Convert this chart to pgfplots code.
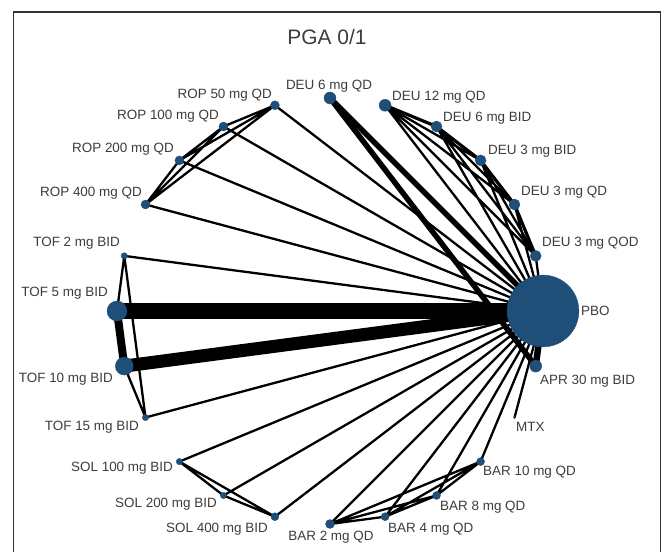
\documentclass[border=0pt]{standalone}
\usepackage{fontspec}
\setmainfont{Liberation Sans}
\usepackage{pgfplots}
\pgfplotsset{compat=1.18}
\definecolor{nodeblue}{HTML}{1F4E79}
\definecolor{txt}{HTML}{3C3C3C}
\begin{document}
\begin{tikzpicture}
\begin{axis}[hide axis, scale only axis, width=662bp, height=552bp,
  xmin=0, xmax=662, ymin=0, ymax=552, clip=false, unbounded coords=jump]
\path (axis cs:0,0) rectangle (axis cs:662,552);
% frame
\draw[line width=1.4bp, black!80] (axis cs:13.5,0) -- (axis cs:13.5,540) -- (axis cs:660.5,540) -- (axis cs:660.5,0);
% thin edges
\addplot[black, line width=2.3bp, line cap=round] coordinates {
(543,241) (535.7,296.1) (nan,nan)
(543,241) (514.5,347.5) (nan,nan)
(543,241) (480.6,391.6) (nan,nan)
(543,241) (436.5,425.5) (nan,nan)
(543,241) (385.1,446.7) (nan,nan)
(543,241) (274.9,446.7) (nan,nan)
(543,241) (223.5,425.5) (nan,nan)
(543,241) (179.4,391.6) (nan,nan)
(543,241) (145.5,347.5) (nan,nan)
(543,241) (124.3,296.1) (nan,nan)
(543,241) (145.5,134.5) (nan,nan)
(543,241) (179.4,90.4) (nan,nan)
(543,241) (223.5,56.5) (nan,nan)
(543,241) (274.9,35.3) (nan,nan)
(543,241) (330,28) (nan,nan)
(543,241) (385.1,35.3) (nan,nan)
(543,241) (436.5,56.5) (nan,nan)
(543,241) (480.6,90.4) (nan,nan)
(543,241) (514.5,134.5) (nan,nan)
(274.9,446.7) (223.5,425.5) (nan,nan)
(274.9,446.7) (179.4,391.6) (nan,nan)
(274.9,446.7) (145.5,347.5) (nan,nan)
(223.5,425.5) (179.4,391.6) (nan,nan)
(223.5,425.5) (145.5,347.5) (nan,nan)
(179.4,391.6) (145.5,347.5) (nan,nan)
(124.3,296.1) (117,241) (nan,nan)
(124.3,296.1) (145.5,134.5) (nan,nan)
(124.3,185.9) (145.5,134.5) (nan,nan)
(179.4,90.4) (223.5,56.5) (nan,nan)
(179.4,90.4) (274.9,35.3) (nan,nan)
(223.5,56.5) (274.9,35.3) (nan,nan)
(330,28) (385.1,35.3) (nan,nan)
(330,28) (436.5,56.5) (nan,nan)
(330,28) (480.6,90.4) (nan,nan)
(385.1,35.3) (436.5,56.5) (nan,nan)
(385.1,35.3) (480.6,90.4) (nan,nan)
(436.5,56.5) (480.6,90.4) (nan,nan)
(385.1,446.7) (480.6,391.6) (nan,nan)
(385.1,446.7) (514.5,347.5) (nan,nan)
(385.1,446.7) (535.7,296.1) (nan,nan)
(436.5,425.5) (514.5,347.5) (nan,nan)
(436.5,425.5) (535.7,296.1) (nan,nan)
(480.6,391.6) (535.7,296.1)
};
% DEU adjacent edges
\addplot[black, line width=3.2bp, line cap=round] coordinates {
(385.1,446.7) (436.5,425.5) (nan,nan)
(436.5,425.5) (480.6,391.6) (nan,nan)
(480.6,391.6) (514.5,347.5) (nan,nan)
(514.5,347.5) (535.7,296.1)
};
% thick edges
\addplot[black, line width=5.5bp] coordinates {(330,454) (543,241)};
\addplot[black, line width=5.5bp] coordinates {(330,454) (535.7,185.9)};
\addplot[black, line width=6.5bp] coordinates {(535.7,185.9) (543,241)};
\addplot[black, line width=8bp] coordinates {(117,241) (124.3,185.9)};
\addplot[black, line width=13bp] coordinates {(124.3,185.9) (543,241)};
\addplot[black, line width=16bp] coordinates {(117,241) (543,241)};
% nodes
\addplot[only marks, mark=*, mark size=36, mark options={fill=nodeblue, draw=nodeblue}] coordinates {(543,241)};
\addplot[only marks, mark=*, mark size=10, mark options={fill=nodeblue, draw=nodeblue}] coordinates {(117,241)};
\addplot[only marks, mark=*, mark size=9, mark options={fill=nodeblue, draw=nodeblue}] coordinates {(124.3,185.9)};
\addplot[only marks, mark=*, mark size=6, mark options={fill=nodeblue, draw=nodeblue}] coordinates {(330,454) (535.7,185.9) (385.1,446.7)};
\addplot[only marks, mark=*, mark size=5.5, mark options={fill=nodeblue, draw=nodeblue}] coordinates {(436.5,425.5) (480.6,391.6) (514.5,347.5) (535.7,296.1)};
\addplot[only marks, mark=*, mark size=4.5, mark options={fill=nodeblue, draw=nodeblue}] coordinates {(274.9,446.7) (223.5,425.5) (179.4,391.6) (145.5,347.5) (330,28)};
\addplot[only marks, mark=*, mark size=4, mark options={fill=nodeblue, draw=nodeblue}] coordinates {(385.1,35.3) (436.5,56.5) (480.6,90.4) (274.9,35.3)};
\addplot[only marks, mark=*, mark size=3.2, mark options={fill=nodeblue, draw=nodeblue}] coordinates {(124.3,296.1) (145.5,134.5) (179.4,90.4) (223.5,56.5)};
\addplot[only marks, mark=*, mark size=1.2, mark options={fill=nodeblue, draw=nodeblue}] coordinates {(514.5,134.5)};
% labels
\begin{scope}[every node/.style={font=\fontsize{13.5}{15}\selectfont, text=txt, inner sep=0pt}]
\node[anchor=west] at (axis cs:581,241) {PBO};
\node[anchor=west] at (axis cs:542,309) {DEU 3 mg QOD};
\node[anchor=west] at (axis cs:521,360) {DEU 3 mg QD};
\node[anchor=west] at (axis cs:488,401) {DEU 3 mg BID};
\node[anchor=west] at (axis cs:443,434) {DEU 6 mg BID};
\node[anchor=west] at (axis cs:392,455) {DEU 12 mg QD};
\node at (axis cs:329,466) {DEU 6 mg QD};
\node[anchor=east] at (axis cs:272,457) {ROP 50 mg QD};
\node[anchor=east] at (axis cs:219,436) {ROP 100 mg QD};
\node[anchor=east] at (axis cs:174,403) {ROP 200 mg QD};
\node[anchor=east] at (axis cs:142,359) {ROP 400 mg QD};
\node[anchor=east] at (axis cs:120,309) {TOF 2 mg BID};
\node[anchor=east] at (axis cs:108,259) {TOF 5 mg BID};
\node[anchor=east] at (axis cs:113,173) {TOF 10 mg BID};
\node[anchor=east] at (axis cs:139,125) {TOF 15 mg BID};
\node[anchor=east] at (axis cs:173,84) {SOL 100 mg BID};
\node[anchor=east] at (axis cs:217,48) {SOL 200 mg BID};
\node[anchor=east] at (axis cs:268,23) {SOL 400 mg BID};
\node at (axis cs:331,15) {BAR 2 mg QD};
\node[anchor=west] at (axis cs:388,23) {BAR 4 mg QD};
\node[anchor=west] at (axis cs:440,45) {BAR 8 mg QD};
\node[anchor=west] at (axis cs:483,80) {BAR 10 mg QD};
\node[anchor=west] at (axis cs:516,125) {MTX};
\node[anchor=west] at (axis cs:540,171) {APR 30 mg BID};
\node[font=\fontsize{21}{24}\selectfont] at (axis cs:327,515) {PGA 0/1};
\end{scope}
\end{axis}
\end{tikzpicture}
\end{document}
